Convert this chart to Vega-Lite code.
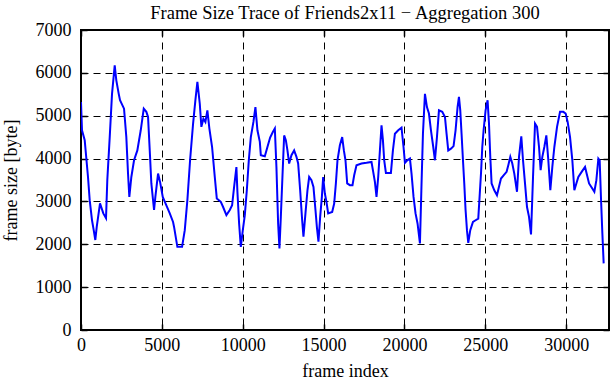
{
  "$schema": "https://vega.github.io/schema/vega-lite/v6.json",
  "autosize": "none",
  "width": 528,
  "height": 300,
  "padding": {"left": 81, "top": 30, "right": 2, "bottom": 50},
  "background": "#ffffff",
  "config": {
    "font": "Liberation Serif",
    "view": {"stroke": "#000000", "strokeWidth": 2},
    "axis": {
      "labelFont": "Liberation Serif",
      "titleFont": "Liberation Serif",
      "labelFontSize": 18,
      "titleFontSize": 18,
      "titleFontWeight": "normal",
      "labelColor": "#000000",
      "titleColor": "#000000",
      "domain": false,
      "tickColor": "#000000",
      "tickWidth": 1.5,
      "gridColor": "#000000",
      "gridOpacity": 1,
      "gridWidth": 1,
      "gridDash": [7, 5]
    }
  },
  "title": {
    "text": "Frame Size Trace of Friends2x11 − Aggregation 300",
    "font": "Liberation Serif",
    "fontSize": 18.5,
    "fontWeight": "normal",
    "color": "#000000",
    "anchor": "middle",
    "offset": -1
  },
  "data": {
    "values": [
      {"f": 0, "s": 5320}, {"f": 62, "s": 4660}, {"f": 229, "s": 4430}, {"f": 433, "s": 3570},
      {"f": 538, "s": 3030}, {"f": 681, "s": 2560}, {"f": 786, "s": 2330}, {"f": 885, "s": 2100},
      {"f": 971, "s": 2400}, {"f": 1176, "s": 2955}, {"f": 1380, "s": 2720}, {"f": 1547, "s": 2610},
      {"f": 1627, "s": 3500}, {"f": 1776, "s": 4500}, {"f": 1918, "s": 5510}, {"f": 2085, "s": 6175},
      {"f": 2184, "s": 5825}, {"f": 2333, "s": 5510}, {"f": 2413, "s": 5360}, {"f": 2661, "s": 5165},
      {"f": 2803, "s": 4500}, {"f": 2908, "s": 3650}, {"f": 2989, "s": 3105}, {"f": 3113, "s": 3570},
      {"f": 3280, "s": 3960}, {"f": 3484, "s": 4190}, {"f": 3694, "s": 4660}, {"f": 3880, "s": 5165},
      {"f": 4041, "s": 5090}, {"f": 4146, "s": 4970}, {"f": 4251, "s": 4190}, {"f": 4350, "s": 3420},
      {"f": 4517, "s": 2800}, {"f": 4598, "s": 3105}, {"f": 4765, "s": 3650}, {"f": 4889, "s": 3455},
      {"f": 5056, "s": 3105}, {"f": 5278, "s": 2910}, {"f": 5489, "s": 2720}, {"f": 5693, "s": 2520},
      {"f": 5755, "s": 2405}, {"f": 5959, "s": 1940}, {"f": 6250, "s": 1940}, {"f": 6417, "s": 2330},
      {"f": 6578, "s": 3030}, {"f": 6745, "s": 3960}, {"f": 6931, "s": 4815}, {"f": 7073, "s": 5360},
      {"f": 7197, "s": 5790}, {"f": 7345, "s": 5280}, {"f": 7444, "s": 4740}, {"f": 7568, "s": 4930},
      {"f": 7692, "s": 4855}, {"f": 7815, "s": 5125}, {"f": 7939, "s": 4700}, {"f": 8106, "s": 4270},
      {"f": 8273, "s": 3570}, {"f": 8397, "s": 3070}, {"f": 8645, "s": 2990}, {"f": 8787, "s": 2870},
      {"f": 8991, "s": 2680}, {"f": 9201, "s": 2800}, {"f": 9344, "s": 2910}, {"f": 9468, "s": 3340},
      {"f": 9610, "s": 3800}, {"f": 9672, "s": 3225}, {"f": 9777, "s": 2485}, {"f": 9882, "s": 1940},
      {"f": 10006, "s": 2330}, {"f": 10130, "s": 2680}, {"f": 10254, "s": 3260}, {"f": 10377, "s": 3960},
      {"f": 10501, "s": 4500}, {"f": 10662, "s": 4855}, {"f": 10786, "s": 5200}, {"f": 10910, "s": 4660},
      {"f": 11058, "s": 4390}, {"f": 11120, "s": 4080}, {"f": 11367, "s": 4055}, {"f": 11528, "s": 4270},
      {"f": 11695, "s": 4490}, {"f": 11862, "s": 4620}, {"f": 11986, "s": 4700}, {"f": 12085, "s": 3800},
      {"f": 12190, "s": 2485}, {"f": 12271, "s": 1905}, {"f": 12357, "s": 2640}, {"f": 12456, "s": 3570},
      {"f": 12562, "s": 4540}, {"f": 12667, "s": 4430}, {"f": 12766, "s": 4190}, {"f": 12871, "s": 3885},
      {"f": 13014, "s": 4080}, {"f": 13180, "s": 4190}, {"f": 13323, "s": 4040}, {"f": 13428, "s": 3885},
      {"f": 13552, "s": 3260}, {"f": 13676, "s": 2560}, {"f": 13756, "s": 2175}, {"f": 13880, "s": 2720},
      {"f": 14004, "s": 3260}, {"f": 14109, "s": 3570}, {"f": 14251, "s": 3495}, {"f": 14375, "s": 3340},
      {"f": 14499, "s": 2800}, {"f": 14585, "s": 2405}, {"f": 14684, "s": 2060}, {"f": 14789, "s": 2640},
      {"f": 14895, "s": 3105}, {"f": 14975, "s": 3570}, {"f": 15080, "s": 3185}, {"f": 15179, "s": 2990},
      {"f": 15284, "s": 2720}, {"f": 15532, "s": 2755}, {"f": 15656, "s": 2950}, {"f": 15761, "s": 3420},
      {"f": 15860, "s": 3960}, {"f": 16008, "s": 4310}, {"f": 16151, "s": 4500}, {"f": 16256, "s": 4190},
      {"f": 16355, "s": 3960}, {"f": 16460, "s": 3420}, {"f": 16627, "s": 3380}, {"f": 16788, "s": 3380},
      {"f": 16893, "s": 3610}, {"f": 17036, "s": 3845}, {"f": 17345, "s": 3885}, {"f": 17655, "s": 3900},
      {"f": 17964, "s": 3920}, {"f": 18069, "s": 3690}, {"f": 18174, "s": 3455}, {"f": 18273, "s": 3105},
      {"f": 18378, "s": 3570}, {"f": 18484, "s": 4190}, {"f": 18583, "s": 4775}, {"f": 18670, "s": 4430},
      {"f": 18750, "s": 3960}, {"f": 18855, "s": 3665}, {"f": 19164, "s": 3665}, {"f": 19288, "s": 4190},
      {"f": 19412, "s": 4580}, {"f": 19616, "s": 4660}, {"f": 19820, "s": 4720}, {"f": 19944, "s": 4270},
      {"f": 20031, "s": 3900}, {"f": 20173, "s": 3960}, {"f": 20340, "s": 4000}, {"f": 20439, "s": 3650},
      {"f": 20563, "s": 3105}, {"f": 20687, "s": 2720}, {"f": 20811, "s": 2485}, {"f": 20959, "s": 2020},
      {"f": 21058, "s": 3420}, {"f": 21145, "s": 4580}, {"f": 21269, "s": 5510}, {"f": 21392, "s": 5200},
      {"f": 21516, "s": 5050}, {"f": 21640, "s": 4660}, {"f": 21782, "s": 4270}, {"f": 21887, "s": 3960},
      {"f": 22011, "s": 4500}, {"f": 22135, "s": 5125}, {"f": 22339, "s": 5090}, {"f": 22506, "s": 4970},
      {"f": 22605, "s": 4580}, {"f": 22710, "s": 4190}, {"f": 22877, "s": 4230}, {"f": 23038, "s": 4290},
      {"f": 23162, "s": 4660}, {"f": 23286, "s": 5200}, {"f": 23372, "s": 5440}, {"f": 23453, "s": 5125},
      {"f": 23533, "s": 4580}, {"f": 23620, "s": 3960}, {"f": 23700, "s": 3420}, {"f": 23781, "s": 2800},
      {"f": 23867, "s": 2330}, {"f": 23948, "s": 2035}, {"f": 24071, "s": 2330}, {"f": 24238, "s": 2520},
      {"f": 24399, "s": 2560}, {"f": 24566, "s": 2600}, {"f": 24647, "s": 3105}, {"f": 24734, "s": 3650},
      {"f": 24814, "s": 4270}, {"f": 24895, "s": 4660}, {"f": 25018, "s": 5125}, {"f": 25142, "s": 5360},
      {"f": 25229, "s": 4815}, {"f": 25309, "s": 4040}, {"f": 25390, "s": 3420}, {"f": 25557, "s": 3260},
      {"f": 25723, "s": 3145}, {"f": 25847, "s": 3340}, {"f": 25971, "s": 3535}, {"f": 26132, "s": 3610},
      {"f": 26318, "s": 3690}, {"f": 26423, "s": 3845}, {"f": 26547, "s": 4040}, {"f": 26670, "s": 3885},
      {"f": 26794, "s": 3650}, {"f": 26961, "s": 3225}, {"f": 27085, "s": 4040}, {"f": 27227, "s": 4520},
      {"f": 27333, "s": 3960}, {"f": 27456, "s": 3420}, {"f": 27580, "s": 2870}, {"f": 27704, "s": 2640},
      {"f": 27828, "s": 2230}, {"f": 27952, "s": 3570}, {"f": 28076, "s": 4815}, {"f": 28199, "s": 4740},
      {"f": 28323, "s": 4270}, {"f": 28422, "s": 3730}, {"f": 28527, "s": 4040}, {"f": 28651, "s": 4270},
      {"f": 28775, "s": 4540}, {"f": 28898, "s": 3960}, {"f": 29022, "s": 3260}, {"f": 29146, "s": 3805},
      {"f": 29270, "s": 4270}, {"f": 29437, "s": 4740}, {"f": 29623, "s": 5090}, {"f": 29827, "s": 5090},
      {"f": 29969, "s": 5050}, {"f": 30093, "s": 4855}, {"f": 30241, "s": 4500}, {"f": 30383, "s": 3960},
      {"f": 30507, "s": 3260}, {"f": 30631, "s": 3420}, {"f": 30754, "s": 3570}, {"f": 30959, "s": 3690},
      {"f": 31169, "s": 3805}, {"f": 31293, "s": 3610}, {"f": 31417, "s": 3420}, {"f": 31578, "s": 3325},
      {"f": 31745, "s": 3225}, {"f": 31869, "s": 3495}, {"f": 31992, "s": 4000}, {"f": 32073, "s": 3960},
      {"f": 32159, "s": 3030}, {"f": 32240, "s": 2250}, {"f": 32320, "s": 1555}
    ]
  },
  "layer": [
    {
      "mark": {"type": "line", "color": "#0000ff", "strokeWidth": 2, "clip": true},
      "encoding": {
        "x": {
          "field": "f", "type": "quantitative",
          "scale": {"domain": [0, 32650], "nice": false, "zero": false},
          "axis": {
            "orient": "bottom", "title": "frame index", "values": [0, 5000, 10000, 15000, 20000, 25000, 30000],
            "format": "d", "grid": true, "ticks": true, "tickSize": -6, "labelPadding": 12,
            "labelFlush": false, "titlePadding": 8
          }
        },
        "y": {
          "field": "s", "type": "quantitative",
          "scale": {"domain": [0, 7000], "nice": false},
          "axis": {
            "orient": "left", "title": "frame size [byte]", "values": [0, 1000, 2000, 3000, 4000, 5000, 6000, 7000],
            "format": "d", "grid": true, "ticks": true, "tickSize": -6, "labelPadding": 16,
            "labelFlush": false, "titlePadding": 15
          }
        }
      }
    },
    {
      "mark": {"type": "line", "opacity": 0},
      "encoding": {
        "x": {
          "field": "f", "type": "quantitative",
          "axis": {"orient": "top", "title": null, "labels": false, "grid": false, "tickSize": -6,
                   "values": [0, 5000, 10000, 15000, 20000, 25000, 30000]}
        },
        "y": {
          "field": "s", "type": "quantitative",
          "axis": {"orient": "right", "title": null, "labels": false, "grid": false, "tickSize": -6,
                   "values": [0, 1000, 2000, 3000, 4000, 5000, 6000, 7000]}
        }
      }
    }
  ]
}
